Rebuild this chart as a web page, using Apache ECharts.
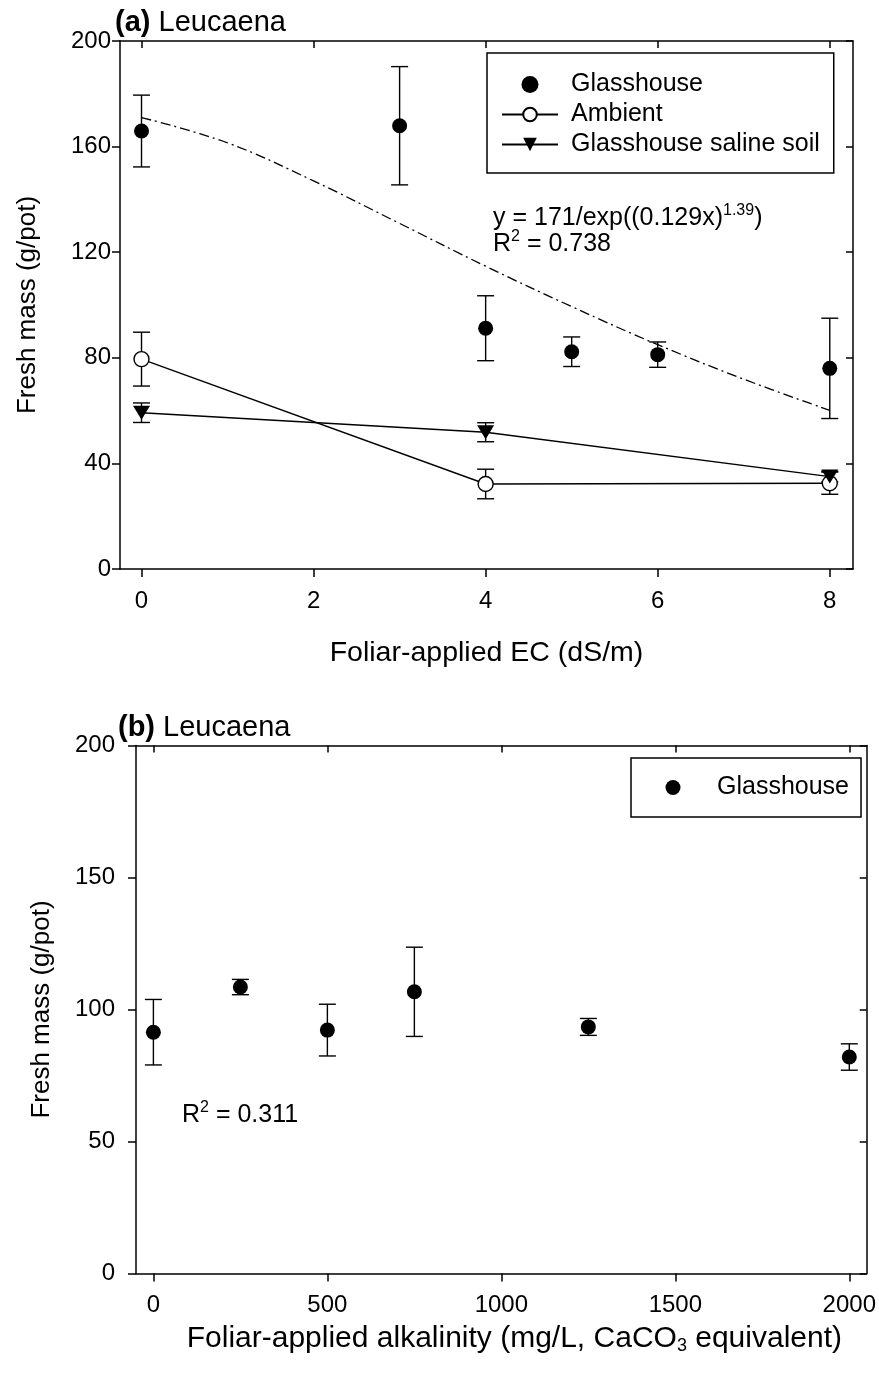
<!DOCTYPE html>
<html>
<head>
<meta charset="utf-8">
<script src="https://cdn.jsdelivr.net/npm/echarts@6/dist/echarts.min.js"></script>
<style>
html,body{margin:0;padding:0;background:#fff;}
#chart{width:879px;height:1374px;}
</style>
</head>
<body>
<div id="chart"></div>
<script>
// ---------- Data: panel (a) ----------
const ecGlass = [0, 3, 4, 5, 6, 8];
const glasshouseA = [165.9, 167.9, 91.2, 82.3, 81.2, 76.0];
const glasshouseAErr = [13.6, 22.4, 12.3, 5.6, 4.8, 19.0];
const ecAmbient = [0, 4, 8];
const ambientA = [79.5, 32.2, 32.5];
const ambientAErr = [10.2, 5.6, 4.2];
const ecSaline = [0, 4, 8];
const salineA = [59.2, 51.8, 35.0];
const salineAErr = [3.7, 3.6, 2.0];
const ecFit = [0, 1, 2, 3, 4, 5, 6, 7, 8];
const fitA = [171.0, 161.4, 147.0, 130.9, 114.7, 99.4, 85.0, 71.9, 60.1];
const xTicksA = [0, 2, 4, 6, 8];
const yTicksA = [0, 40, 80, 120, 160, 200];

// ---------- Data: panel (b) ----------
const alkB = [0, 250, 500, 750, 1250, 2000];
const glasshouseB = [91.4, 108.5, 92.2, 106.7, 93.4, 82.0];
const glasshouseBErr = [12.4, 2.9, 9.8, 16.9, 3.2, 5.0];
const xTicksB = [0, 500, 1000, 1500, 2000];
const yTicksB = [0, 50, 100, 150, 200];

// ---------- Style ----------
const FONT = "'Liberation Sans', Arial, Helvetica, sans-serif";
const FS_TICK = 24;
const FS_LEG = 25;
const FS_NAME_Y = 26;
const FS_TITLE = 29;
const BLACK = '#000';

const chart = echarts.init(document.getElementById('chart'), null, {renderer: 'canvas'});

function pairs(xs, ys) { return xs.map((x, i) => [x, ys[i]]); }
function triples(xs, ys, es) { return xs.map((x, i) => [x, ys[i], es[i]]); }

function errorSeries(xs, ys, es, axisIdx) {
  return {
    type: 'custom',
    xAxisIndex: axisIdx * 2,
    yAxisIndex: axisIdx * 2,
    data: triples(xs, ys, es),
    silent: true,
    clip: false,
    z: 1,
    renderItem: function (params, api) {
      const x = api.value(0), y = api.value(1), e = api.value(2);
      const t = api.coord([x, y + e]);
      const b = api.coord([x, y - e]);
      const hw = 8.5;
      const st = {stroke: BLACK, lineWidth: 1.4};
      return {
        type: 'group',
        children: [
          {type: 'line', shape: {x1: t[0], y1: t[1], x2: b[0], y2: b[1]}, style: st},
          {type: 'line', shape: {x1: t[0] - hw, y1: t[1], x2: t[0] + hw, y2: t[1]}, style: st},
          {type: 'line', shape: {x1: b[0] - hw, y1: b[1], x2: b[0] + hw, y2: b[1]}, style: st}
        ]
      };
    }
  };
}

function axisPair(gridIndex, xmin, xmax, xTicks, ymin, ymax, yTicks, labelMarginY, xName, xNameGap, xNameSize, xNamePad, yName, yNameGap) {
  const lineStyle = {color: BLACK, width: 1.5};
  const labelStyle = {color: BLACK, fontSize: FS_TICK, fontFamily: FONT};
  const xAxes = [
    {
      type: 'value', gridIndex, min: xmin, max: xmax, position: 'bottom',
      axisLine: {show: true, onZero: false, lineStyle},
      axisTick: {show: true, inside: false, length: 8, lineStyle, customValues: xTicks},
      axisLabel: Object.assign({show: true, margin: 20, customValues: xTicks,
        formatter: v => String(v)}, labelStyle),
      splitLine: {show: false},
      name: xName, nameLocation: 'middle', nameGap: xNameGap,
      nameTextStyle: {
        color: BLACK, fontSize: xNameSize, fontFamily: FONT,
        padding: [0, 0, 0, xNamePad],
        rich: {
          sub: {fontSize: 18, fontFamily: FONT, color: BLACK, padding: [16, 0, 0, 0]}
        }
      }
    },
    {
      type: 'value', gridIndex, min: xmin, max: xmax, position: 'top',
      axisLine: {show: true, onZero: false, lineStyle},
      axisTick: {show: true, inside: true, length: 7, lineStyle, customValues: xTicks},
      axisLabel: {show: false},
      splitLine: {show: false}
    }
  ];
  const yAxes = [
    {
      type: 'value', gridIndex, min: ymin, max: ymax, position: 'left',
      axisLine: {show: true, onZero: false, lineStyle},
      axisTick: {show: true, inside: false, length: 8, lineStyle, customValues: yTicks},
      axisLabel: Object.assign({show: true, margin: labelMarginY, customValues: yTicks}, labelStyle),
      splitLine: {show: false},
      name: yName, nameLocation: 'middle', nameGap: yNameGap,
      nameTextStyle: {color: BLACK, fontSize: FS_NAME_Y, fontFamily: FONT}
    },
    {
      type: 'value', gridIndex, min: ymin, max: ymax, position: 'right',
      axisLine: {show: true, onZero: false, lineStyle},
      axisTick: {show: true, inside: true, length: 7, lineStyle, customValues: yTicks},
      axisLabel: {show: false},
      splitLine: {show: false}
    }
  ];
  return {xAxes, yAxes};
}

const axA = axisPair(0, -0.25, 8.27, xTicksA, 0, 200, yTicksA, 9,
  'Foliar-applied EC (dS/m)', 70, 28.5, 0, 'Fresh mass (g/pot)', 79);
const axB = axisPair(1, -50, 2050, xTicksB, 0, 200, yTicksB, 21,
  'Foliar-applied alkalinity (mg/L, CaCO{sub|3} equivalent)', 48, 30, 26, 'Fresh mass (g/pot)', 81);

const markerSize = 15;
const supStyle = {fontSize: 16, fontFamily: FONT, fill: BLACK, padding: [0, 0, 15, 0]};

const option = {
  backgroundColor: '#fff',
  animation: false,
  textStyle: {fontFamily: FONT, color: BLACK},
  grid: [
    {left: 120, top: 41, width: 733, height: 528},
    {left: 136, top: 745.5, width: 732, height: 528}
  ],
  xAxis: [axA.xAxes[0], axA.xAxes[1], axB.xAxes[0], axB.xAxes[1]],
  yAxis: [axA.yAxes[0], axA.yAxes[1], axB.yAxes[0], axB.yAxes[1]],
  legend: [
    {
      data: ['Glasshouse', 'Ambient', 'Glasshouse saline soil'],
      orient: 'vertical',
      left: 487, top: 53,
      itemWidth: 56, itemHeight: 17,
      itemGap: 5,
      padding: [19, 14, 16, 14],
      borderColor: BLACK, borderWidth: 1.5,
      selectedMode: false,
      textStyle: {fontSize: FS_LEG, fontFamily: FONT, color: BLACK, padding: [0, 0, 0, 8]}
    },
    {
      data: ['Glasshouse'],
      orient: 'vertical',
      left: 631, top: 758,
      itemWidth: 15, itemHeight: 15,
      padding: [17, 12, 17, 34.5],
      borderColor: BLACK, borderWidth: 1.5,
      selectedMode: false,
      textStyle: {fontSize: FS_LEG, fontFamily: FONT, color: BLACK, padding: [0, 0, 0, 31.5]}
    }
  ],
  graphic: [
    {
      type: 'text', left: 115, top: 8,
      style: {
        text: '{b|(a)} Leucaena',
        font: FS_TITLE + 'px ' + FONT, fill: BLACK,
        rich: {b: {fontWeight: 'bold', fontSize: FS_TITLE, fontFamily: FONT, fill: BLACK}}
      }
    },
    {
      type: 'text', left: 118, top: 713,
      style: {
        text: '{b|(b)} Leucaena',
        font: FS_TITLE + 'px ' + FONT, fill: BLACK,
        rich: {b: {fontWeight: 'bold', fontSize: FS_TITLE, fontFamily: FONT, fill: BLACK}}
      }
    },
    {
      type: 'text', left: 493, top: 203,
      style: {
        text: 'y = 171/exp((0.129x){sup|1.39})',
        font: FS_LEG + 'px ' + FONT, fill: BLACK,
        rich: {sup: supStyle}
      }
    },
    {
      type: 'text', left: 493, top: 229,
      style: {
        text: 'R{sup|2} = 0.738',
        font: FS_LEG + 'px ' + FONT, fill: BLACK,
        rich: {sup: supStyle}
      }
    },
    {
      type: 'text', left: 182, top: 1100,
      style: {
        text: 'R{sup|2} = 0.311',
        font: FS_LEG + 'px ' + FONT, fill: BLACK,
        rich: {sup: supStyle}
      }
    }
  ],
  series: [
    // Panel (a)
    {
      name: 'fit', type: 'line', xAxisIndex: 0, yAxisIndex: 0,
      data: pairs(ecFit, fitA), smooth: 0.4, symbol: 'none', silent: true, z: 1,
      lineStyle: {color: BLACK, width: 1.3, type: [10, 4, 2, 4]}
    },
    errorSeries(ecGlass, glasshouseA, glasshouseAErr, 0),
    errorSeries(ecAmbient, ambientA, ambientAErr, 0),
    errorSeries(ecSaline, salineA, salineAErr, 0),
    {
      name: 'Ambient', type: 'line', xAxisIndex: 0, yAxisIndex: 0,
      data: pairs(ecAmbient, ambientA), symbol: 'circle', symbolSize: markerSize, z: 3,
      lineStyle: {color: BLACK, width: 1.4},
      itemStyle: {color: '#fff', borderColor: BLACK, borderWidth: 1.4, opacity: 1}
    },
    {
      name: 'Glasshouse saline soil', type: 'line', xAxisIndex: 0, yAxisIndex: 0,
      data: pairs(ecSaline, salineA), symbol: 'triangle', symbolRotate: 180, symbolSize: [17, 14], z: 4,
      lineStyle: {color: BLACK, width: 1.4},
      itemStyle: {color: BLACK, opacity: 1}
    },
    {
      name: 'Glasshouse', type: 'scatter', xAxisIndex: 0, yAxisIndex: 0,
      data: pairs(ecGlass, glasshouseA), symbol: 'circle', symbolSize: markerSize, z: 5,
      itemStyle: {color: BLACK, opacity: 1}
    },
    // Panel (b)
    errorSeries(alkB, glasshouseB, glasshouseBErr, 1),
    {
      name: 'Glasshouse', type: 'scatter', xAxisIndex: 2, yAxisIndex: 2,
      data: pairs(alkB, glasshouseB), symbol: 'circle', symbolSize: markerSize, z: 5,
      itemStyle: {color: BLACK, opacity: 1}
    }
  ]
};

chart.setOption(option);
</script>
</body>
</html>
